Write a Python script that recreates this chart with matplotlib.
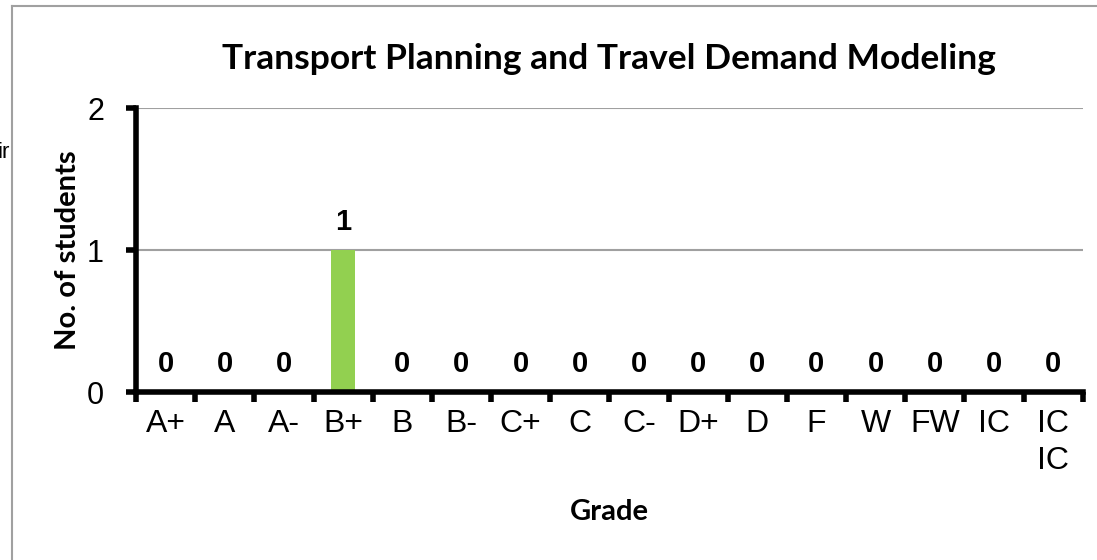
import matplotlib.pyplot as plt
from matplotlib.lines import Line2D
import numpy as np

grades = ['A+', 'A', 'A-', 'B+', 'B', 'B-', 'C+', 'C', 'C-', 'D+', 'D', 'F', 'W', 'FW', 'IC', 'IC\nIC']
students = [0, 0, 0, 1, 0, 0, 0, 0, 0, 0, 0, 0, 0, 0, 0, 0]

fig = plt.figure(figsize=(10.97, 5.60), dpi=100)
ax = fig.add_axes([0.124, 0.30, 0.863, 0.507])

x = np.arange(len(grades))
bars = ax.bar(x, students, width=0.4, color='#92D050', zorder=3)
for xi, v in zip(x, students):
    ax.annotate(str(v), (xi, v), xytext=(0, 10), textcoords='offset points',
                ha='center', va='bottom', fontsize=21, fontweight='bold',
                family='Liberation Sans')

ax.set_xlim(-0.5, len(grades) - 0.5)
ax.set_ylim(0, 2)
ax.set_yticks([0, 1, 2])
ax.set_yticklabels(['0', '1', '2'], fontsize=22, family='Liberation Sans')
ax.set_xticks(np.arange(len(grades) + 1) - 0.5)
ax.set_xticklabels([])
ax.set_xticks(x, minor=True)
ax.set_xticklabels(grades, minor=True, fontsize=23, family='Liberation Sans',
                   va='top', linespacing=1.3)
ax.tick_params(axis='x', which='minor', length=0, pad=12)
ax.tick_params(axis='x', which='major', length=7, width=4, direction='out')
ax.tick_params(axis='y', length=7, width=4, direction='out', pad=16)

ax.yaxis.grid(True, color='#a0a0a0', linewidth=1.5, zorder=0)
ax.set_axisbelow(True)
for s in ['top', 'right']:
    ax.spines[s].set_visible(False)
for s in ['left', 'bottom']:
    ax.spines[s].set_linewidth(4)
    ax.spines[s].set_zorder(4)

ax.set_title('Transport Planning and Travel Demand Modeling', fontsize=25.5,
             fontweight='bold', family='Lato', pad=28)
ax.set_ylabel('No. of students', fontsize=21, fontweight='bold', family='Lato', labelpad=4)
ax.set_xlabel('Grade', fontsize=21, fontweight='bold', family='Lato', labelpad=17)

# outer frame (left and top edges only visible)
fig.add_artist(Line2D([12/1097, 12/1097], [0, 554/560], color='#a0a0a0', lw=1.5))
fig.add_artist(Line2D([12/1097, 1], [554/560, 554/560], color='#a0a0a0', lw=1.5))
fig.text(10/1097, 408/560, 'ir', ha='right', va='center', fontsize=16, family='Liberation Sans')

fig.savefig('out.png', dpi=100)
